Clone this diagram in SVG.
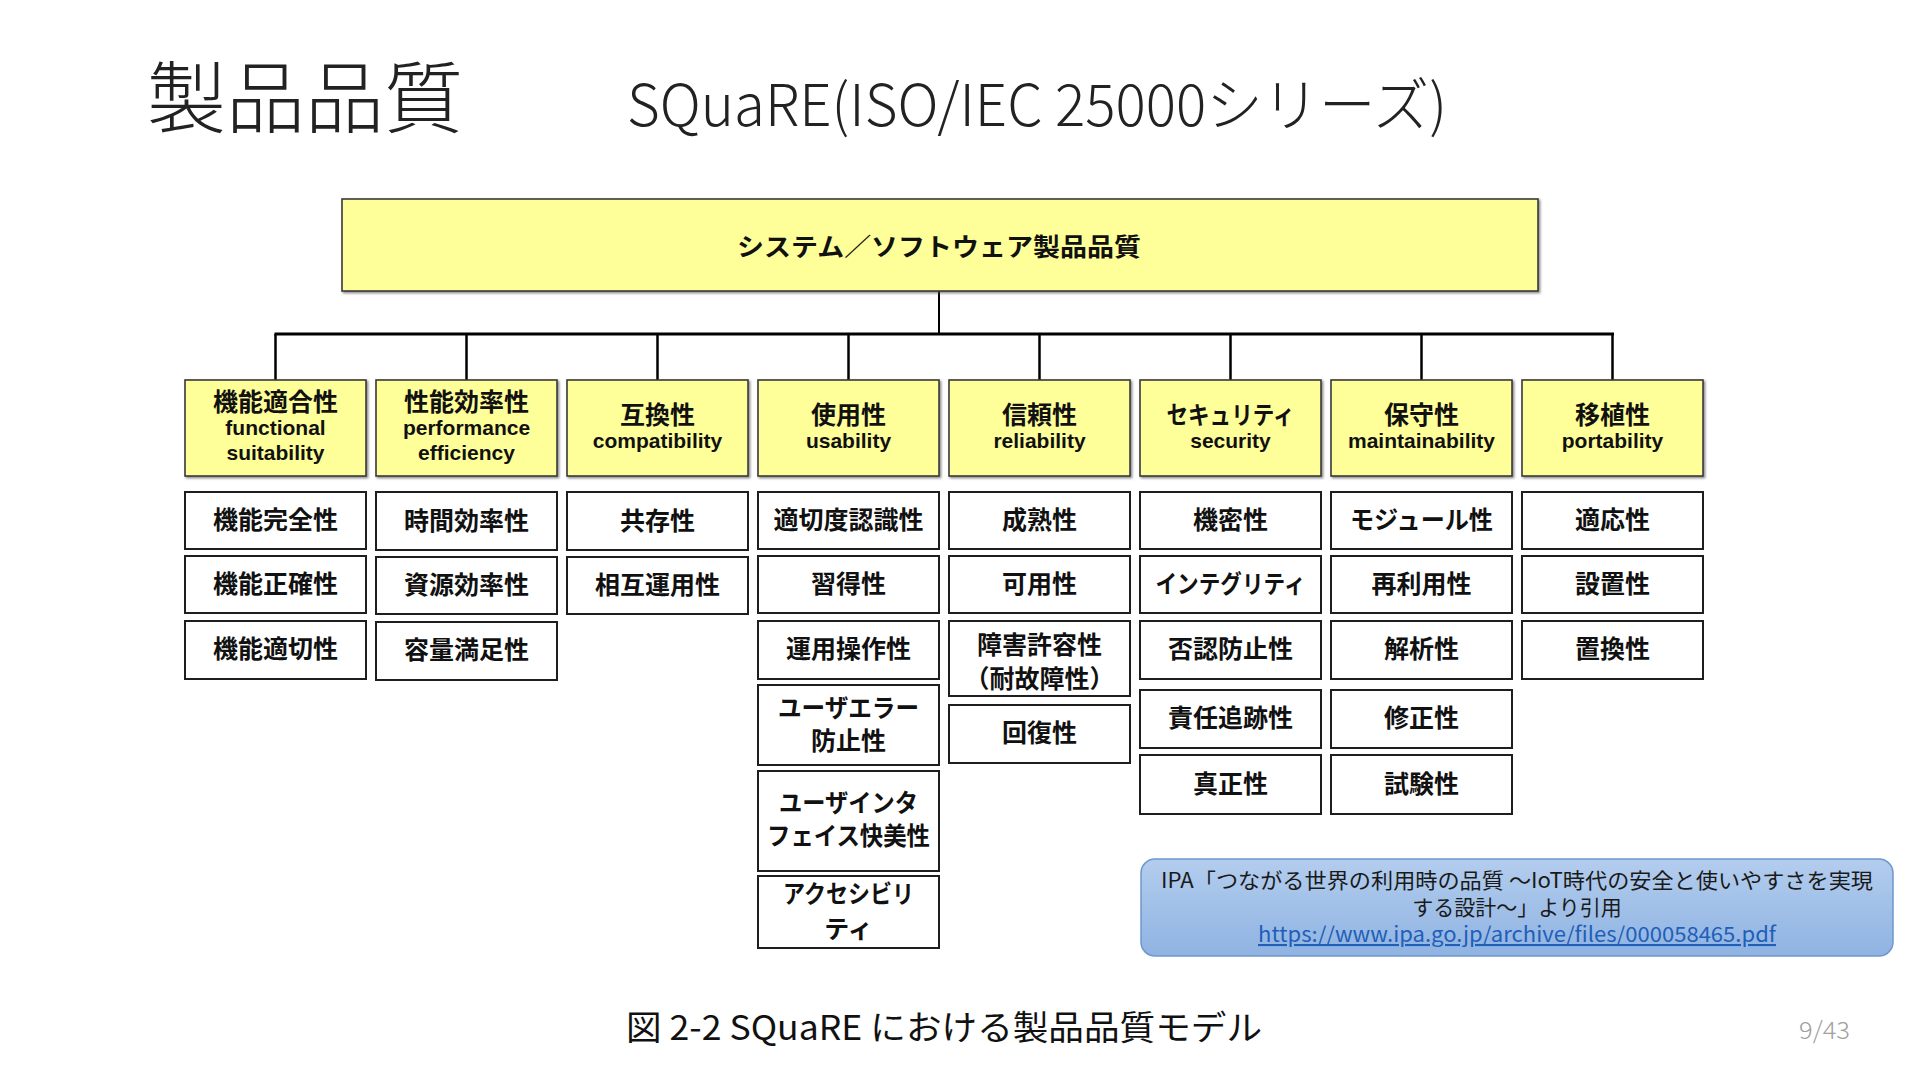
<svg xmlns="http://www.w3.org/2000/svg" width="1920" height="1080" viewBox="0 0 1920 1080">
<defs>
<linearGradient id="callg" x1="0" y1="0" x2="0" y2="1">
<stop offset="0" stop-color="#b3cdee"/>
<stop offset="1" stop-color="#8fb3e2"/>
</linearGradient>
<filter id="sh" x="-5%" y="-5%" width="115%" height="120%">
<feDropShadow dx="1.5" dy="1.5" stdDeviation="0.8" flood-color="#555" flood-opacity="0.7"/>
</filter>
</defs>
<style>
.jp{font-family:"Noto Sans CJK JP","Noto Sans",sans-serif;}
.ttl{font-weight:300;fill:#222;}
.cat{fill:#ffff99;stroke:#3a3a3a;stroke-width:1.6;}
.sub{fill:#ffffff;stroke:#1e1e1e;stroke-width:2;}
.top{fill:#ffff99;stroke:#3a3a3a;stroke-width:1.6;}
.tj{font-family:"Noto Sans CJK JP",sans-serif;font-weight:700;font-size:25px;fill:#111;text-anchor:middle;}
.te{font-family:"Liberation Sans",Arial,sans-serif;font-weight:700;font-size:21px;fill:#111;text-anchor:middle;}
.conn{stroke:#000;fill:none;}
.ct{font-family:"Noto Sans CJK JP",sans-serif;font-size:21px;fill:#1a1a1a;text-anchor:middle;font-weight:400;}
</style>
<rect width="1920" height="1080" fill="#ffffff"/>

<text class="jp ttl" x="147" y="127" font-size="78" textLength="316" lengthAdjust="spacingAndGlyphs">製品品質</text>
<text class="jp ttl" x="627" y="126" font-size="58" textLength="820" lengthAdjust="spacingAndGlyphs">SQuaRE(ISO/IEC 25000シリーズ)</text>

<g id="connectors">
<line class="conn" x1="939" y1="291" x2="939" y2="334" stroke-width="2"/>
<line class="conn" x1="274.5" y1="334" x2="1614" y2="334" stroke-width="3"/>
<line class="conn" x1="275.5" y1="334" x2="275.5" y2="380" stroke-width="2.5"/>
<line class="conn" x1="466.5" y1="334" x2="466.5" y2="380" stroke-width="2.5"/>
<line class="conn" x1="657.5" y1="334" x2="657.5" y2="380" stroke-width="2.5"/>
<line class="conn" x1="848.5" y1="334" x2="848.5" y2="380" stroke-width="2.5"/>
<line class="conn" x1="1039.5" y1="334" x2="1039.5" y2="380" stroke-width="2.5"/>
<line class="conn" x1="1230.5" y1="334" x2="1230.5" y2="380" stroke-width="2.5"/>
<line class="conn" x1="1421.5" y1="334" x2="1421.5" y2="380" stroke-width="2.5"/>
<line class="conn" x1="1612.5" y1="334" x2="1612.5" y2="380" stroke-width="2.5"/>
</g>

<g id="root">
<rect class="top" x="342" y="199" width="1196" height="92" filter="url(#sh)"/>
<text class="tj" x="939" y="256" font-size="28" textLength="404" lengthAdjust="spacingAndGlyphs">システム／ソフトウェア製品品質</text>
</g>

<g id="cat-functional">
<rect class="cat" x="185" y="380" width="181" height="96" filter="url(#sh)"/>
<text class="tj" x="275.5" y="411">機能適合性</text>
<text class="te" x="275.5" y="435">functional</text>
<text class="te" x="275.5" y="460">suitability</text>
</g>
<g id="cat-performance">
<rect class="cat" x="376" y="380" width="181" height="96" filter="url(#sh)"/>
<text class="tj" x="466.5" y="411">性能効率性</text>
<text class="te" x="466.5" y="435">performance</text>
<text class="te" x="466.5" y="460">efficiency</text>
</g>
<g id="cat-compatibility">
<rect class="cat" x="567" y="380" width="181" height="96" filter="url(#sh)"/>
<text class="tj" x="657.5" y="424">互換性</text>
<text class="te" x="657.5" y="448">compatibility</text>
</g>
<g id="cat-usability">
<rect class="cat" x="758" y="380" width="181" height="96" filter="url(#sh)"/>
<text class="tj" x="848.5" y="424">使用性</text>
<text class="te" x="848.5" y="448">usability</text>
</g>
<g id="cat-reliability">
<rect class="cat" x="949" y="380" width="181" height="96" filter="url(#sh)"/>
<text class="tj" x="1039.5" y="424">信頼性</text>
<text class="te" x="1039.5" y="448">reliability</text>
</g>
<g id="cat-security">
<rect class="cat" x="1140" y="380" width="181" height="96" filter="url(#sh)"/>
<text class="tj" x="1230.5" y="424" textLength="128" lengthAdjust="spacingAndGlyphs">セキュリティ</text>
<text class="te" x="1230.5" y="448">security</text>
</g>
<g id="cat-maintainability">
<rect class="cat" x="1331" y="380" width="181" height="96" filter="url(#sh)"/>
<text class="tj" x="1421.5" y="424">保守性</text>
<text class="te" x="1421.5" y="448">maintainability</text>
</g>
<g id="cat-portability">
<rect class="cat" x="1522" y="380" width="181" height="96" filter="url(#sh)"/>
<text class="tj" x="1612.5" y="424">移植性</text>
<text class="te" x="1612.5" y="448">portability</text>
</g>

<g id="f1"><rect class="sub" x="185" y="492" width="181" height="57"/><text class="tj" x="275.5" y="529">機能完全性</text></g>
<g id="f2"><rect class="sub" x="185" y="556" width="181" height="57"/><text class="tj" x="275.5" y="593">機能正確性</text></g>
<g id="f3"><rect class="sub" x="185" y="621" width="181" height="58"/><text class="tj" x="275.5" y="658">機能適切性</text></g>

<g id="p1"><rect class="sub" x="376" y="492" width="181" height="58"/><text class="tj" x="466.5" y="530">時間効率性</text></g>
<g id="p2"><rect class="sub" x="376" y="557" width="181" height="57"/><text class="tj" x="466.5" y="594">資源効率性</text></g>
<g id="p3"><rect class="sub" x="376" y="622" width="181" height="58"/><text class="tj" x="466.5" y="659">容量満足性</text></g>

<g id="c1"><rect class="sub" x="567" y="492" width="181" height="58"/><text class="tj" x="657.5" y="530">共存性</text></g>
<g id="c2"><rect class="sub" x="567" y="557" width="181" height="57"/><text class="tj" x="657.5" y="594">相互運用性</text></g>

<g id="u1"><rect class="sub" x="758" y="492" width="181" height="57"/><text class="tj" x="848.5" y="529">適切度認識性</text></g>
<g id="u2"><rect class="sub" x="758" y="556" width="181" height="57"/><text class="tj" x="848.5" y="593">習得性</text></g>
<g id="u3"><rect class="sub" x="758" y="621" width="181" height="58"/><text class="tj" x="848.5" y="658">運用操作性</text></g>
<g id="u4"><rect class="sub" x="758" y="685" width="181" height="80"/><text class="tj" x="848.5" y="717" textLength="141" lengthAdjust="spacingAndGlyphs">ユーザエラー</text><text class="tj" x="848.5" y="750">防止性</text></g>
<g id="u5"><rect class="sub" x="758" y="771" width="181" height="100"/><text class="tj" x="848.5" y="812" textLength="139" lengthAdjust="spacingAndGlyphs">ユーザインタ</text><text class="tj" x="848.5" y="845" textLength="163" lengthAdjust="spacingAndGlyphs">フェイス快美性</text></g>
<g id="u6"><rect class="sub" x="758" y="876" width="181" height="72"/><text class="tj" x="848.5" y="903" textLength="131" lengthAdjust="spacingAndGlyphs">アクセシビリ</text><text class="tj" x="848.5" y="938">ティ</text></g>

<g id="r1"><rect class="sub" x="949" y="492" width="181" height="57"/><text class="tj" x="1039.5" y="529">成熟性</text></g>
<g id="r2"><rect class="sub" x="949" y="556" width="181" height="57"/><text class="tj" x="1039.5" y="593">可用性</text></g>
<g id="r3"><rect class="sub" x="949" y="621" width="181" height="75"/><text class="tj" x="1039.5" y="654">障害許容性</text><text class="tj" x="1039.5" y="688">（耐故障性）</text></g>
<g id="r4"><rect class="sub" x="949" y="705" width="181" height="58"/><text class="tj" x="1039.5" y="742">回復性</text></g>

<g id="s1"><rect class="sub" x="1140" y="492" width="181" height="57"/><text class="tj" x="1230.5" y="529">機密性</text></g>
<g id="s2"><rect class="sub" x="1140" y="556" width="181" height="57"/><text class="tj" x="1230.5" y="593" textLength="150" lengthAdjust="spacingAndGlyphs">インテグリティ</text></g>
<g id="s3"><rect class="sub" x="1140" y="621" width="181" height="58"/><text class="tj" x="1230.5" y="658">否認防止性</text></g>
<g id="s4"><rect class="sub" x="1140" y="690" width="181" height="58"/><text class="tj" x="1230.5" y="727">責任追跡性</text></g>
<g id="s5"><rect class="sub" x="1140" y="755" width="181" height="59"/><text class="tj" x="1230.5" y="793">真正性</text></g>

<g id="m1"><rect class="sub" x="1331" y="492" width="181" height="57"/><text class="tj" x="1421.5" y="529" textLength="143" lengthAdjust="spacingAndGlyphs">モジュール性</text></g>
<g id="m2"><rect class="sub" x="1331" y="556" width="181" height="57"/><text class="tj" x="1421.5" y="593">再利用性</text></g>
<g id="m3"><rect class="sub" x="1331" y="621" width="181" height="58"/><text class="tj" x="1421.5" y="658">解析性</text></g>
<g id="m4"><rect class="sub" x="1331" y="690" width="181" height="58"/><text class="tj" x="1421.5" y="727">修正性</text></g>
<g id="m5"><rect class="sub" x="1331" y="755" width="181" height="59"/><text class="tj" x="1421.5" y="793">試験性</text></g>

<g id="o1"><rect class="sub" x="1522" y="492" width="181" height="57"/><text class="tj" x="1612.5" y="529">適応性</text></g>
<g id="o2"><rect class="sub" x="1522" y="556" width="181" height="57"/><text class="tj" x="1612.5" y="593">設置性</text></g>
<g id="o3"><rect class="sub" x="1522" y="621" width="181" height="58"/><text class="tj" x="1612.5" y="658">置換性</text></g>

<g id="callout">
<rect x="1141" y="859" width="752" height="97" rx="14" fill="url(#callg)" stroke="#6f98cc" stroke-width="1.5"/>
<text class="ct" x="1517" y="888" textLength="712" lengthAdjust="spacingAndGlyphs">IPA「つながる世界の利用時の品質 ～IoT時代の安全と使いやすさを実現</text>
<text class="ct" x="1517" y="915">する設計～」より引用</text>
<text class="ct" x="1517" y="942" text-decoration="underline" textLength="518" lengthAdjust="spacingAndGlyphs" style="fill:#1f5fb8">https://www.ipa.go.jp/archive/files/000058465.pdf</text>
</g>

<text class="jp" x="626" y="1040" font-size="34" fill="#111" textLength="636" lengthAdjust="spacingAndGlyphs">図 2-2  SQuaRE における製品品質モデル</text>
<text class="jp" x="1799" y="1039" font-size="24" fill="#a0a0a0" font-weight="300" textLength="51" lengthAdjust="spacingAndGlyphs">9/43</text>
</svg>
